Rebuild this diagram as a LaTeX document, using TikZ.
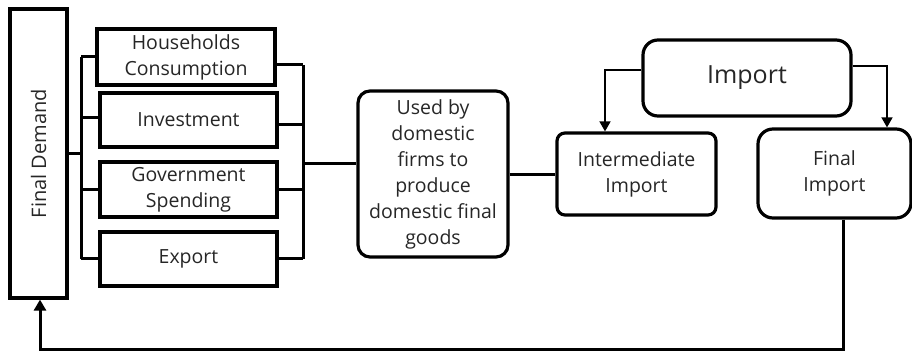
\documentclass[tikz,border=0pt]{standalone}
\usepackage{fontspec}
\setmainfont{Open Sans}
\usetikzlibrary{arrows.meta}
\begin{document}
\begin{tikzpicture}[x=1pt,y=-1pt,
  base/.style={draw=black,line width=3.2pt,inner sep=0pt,text=black!85,align=center,
     font=\fontsize{19.5}{26}\selectfont},
  sqbox/.style={base},
  rbox/.style={base,rounded corners=#1},
  bus/.style={line width=3pt},
  imparrow/.style={line width=1.6pt,-{Triangle[width=11pt,length=10pt]}},
  fbarrow/.style={line width=3pt,-{Triangle[width=12pt,length=11pt]}}]
\useasboundingbox (0,0) rectangle (912,352);
% left column
\node[sqbox,minimum width=57pt,minimum height=289pt] (FD) at (38.5,153.5) {};
\node[rotate=90,text=black!85,font=\fontsize{20}{24}\selectfont] (FDt) at (FD.center) {Final Demand};
\node[sqbox,minimum width=178pt,minimum height=56pt] (HH) at (186,57) {Households\\Consumption};
\node[sqbox,minimum width=177pt,minimum height=54pt] (Inv) at (188.5,120) {Investment};
\node[sqbox,minimum width=177pt,minimum height=55pt] (Gov) at (188.5,189.5) {Government\\Spending};
\node[sqbox,minimum width=177pt,minimum height=54pt] (Exp) at (188.5,259) {Export};
% middle and right
\node[rbox=12pt,minimum width=150pt,minimum height=166pt] (Used) at (433,174)
  {Used by\\domestic\\firms to\\produce\\domestic final\\goods};
\node[rbox=8pt,minimum width=159pt,minimum height=82pt] (Inter) at (636.5,174) {Intermediate\\Import};
\node[rbox=15pt,minimum width=153pt,minimum height=89pt] (Final) at (834.5,173.5) {Final\\Import};
\node[rbox=15pt,minimum width=208pt,minimum height=76pt,font=\fontsize{25}{30}\selectfont] (Imp) at (747,78) {Import};
% left bus
\coordinate (busL) at (81,154);
\draw[bus] (FD.east |- busL) -- (busL);
\draw[bus] (busL |- HH.west) -- (busL |- Exp.west);
\draw[bus] (busL |- HH.west) -- (HH.west);
\draw[bus] (busL |- 0,118) -- (Inv.west |- 0,118);
\draw[bus] (busL |- 0,190) -- (Gov.west |- 0,190);
\draw[bus] (busL |- Exp.west) -- (Exp.west);
% right bus
\coordinate (busR) at (303,164);
\draw[bus] (busR |- 0,65) -- (busR |- 0,259);
\draw[bus] (HH.east |- 0,65) -- (busR |- 0,65);
\draw[bus] (Inv.east |- 0,125) -- (busR |- 0,125);
\draw[bus] (Gov.east |- 0,190) -- (busR |- 0,190);
\draw[bus] (Exp.east |- 0,259) -- (busR |- 0,259);
\draw[bus] (busR) -- (Used.west |- busR);
% used -> intermediate
\draw[bus] (Used.east |- 0,175) -- (Inter.west |- 0,175);
% import arrows
\draw[imparrow] (Imp.west |- 0,70) -| ([xshift=-31.5pt]Inter.north);
\draw[imparrow] (Imp.east |- 0,66) -| ([xshift=52.5pt]Final.north);
% feedback
\coordinate (fb) at (843,349);
\draw[fbarrow] ([xshift=8.5pt]Final.south) -- (fb) -| ([xshift=1.5pt]FD.south);
\end{tikzpicture}
\end{document}
